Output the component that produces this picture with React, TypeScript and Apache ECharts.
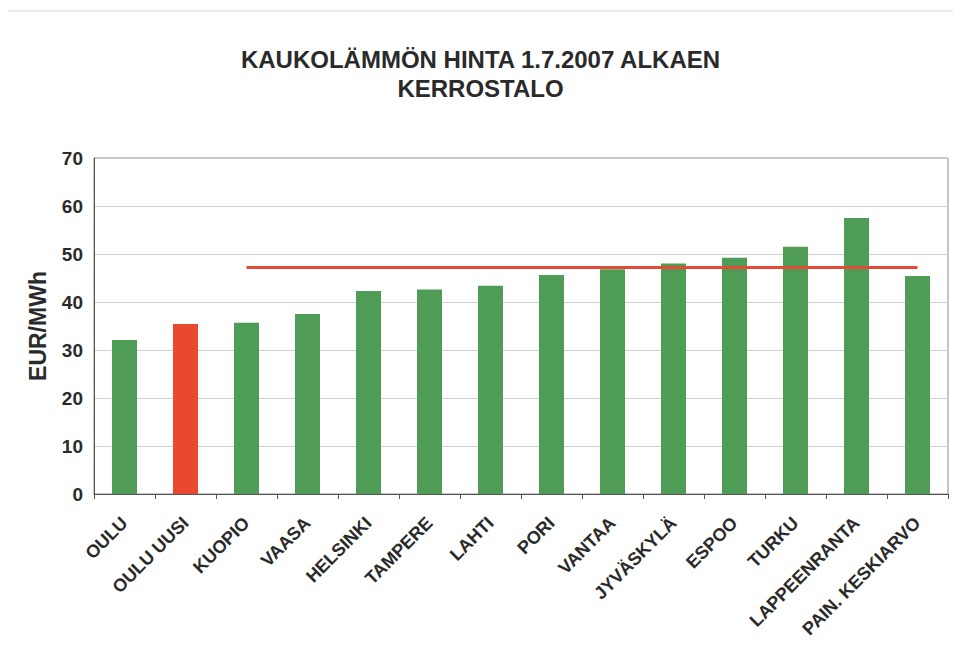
import React, { useEffect, useRef } from "react";
import * as echarts from "echarts";

const categories = [
  "OULU", "OULU UUSI", "KUOPIO", "VAASA", "HELSINKI", "TAMPERE", "LAHTI",
  "PORI", "VANTAA", "JYVÄSKYLÄ", "ESPOO", "TURKU", "LAPPEENRANTA", "PAIN. KESKIARVO",
];
const prices = [32.1, 35.4, 35.7, 37.5, 42.3, 42.6, 43.4, 45.6, 46.8, 48.0, 49.2, 51.5, 57.5, 45.4];
const highlighted = "OULU UUSI";
const averageValue = 47.2;
const averageFrom = "KUOPIO";
const yTicks = [0, 10, 20, 30, 40, 50, 60, 70];

const FONT = "Liberation Sans, Arial, sans-serif";

export default function App() {
  const ref = useRef<HTMLDivElement>(null);
  useEffect(() => {
    if (!ref.current) return;
    const chart = echarts.init(ref.current, null, { renderer: "svg" });
    const startIdx = categories.indexOf(averageFrom);
    const lineData = categories.map((_, i) => (i >= startIdx ? averageValue : null));
    chart.setOption({
      animation: false,
      backgroundColor: "#ffffff",
      title: {
        text: "KAUKOLÄMMÖN HINTA 1.7.2007 ALKAEN\nKERROSTALO",
        left: "center",
        top: 32,
        textStyle: {
          fontFamily: FONT,
          fontSize: 24,
          fontWeight: "bold",
          color: "#2a2a2a",
          lineHeight: 29,
        },
      },
      graphic: [
        {
          type: "line",
          shape: { x1: 0, y1: 3, x2: 945, y2: 3 },
          style: { stroke: "#d8d8d8", lineWidth: 1 },
        },
      ],
      grid: { left: 86, right: 5, top: 150, bottom: 159, show: true, borderColor: "#8a8a8a", borderWidth: 1 },
      xAxis: {
        type: "category",
        data: categories,
        axisLine: { lineStyle: { color: "#555555" } },
        axisTick: { show: true, alignWithLabel: false, length: 5, lineStyle: { color: "#555555" } },
        axisLabel: {
          rotate: 45,
          interval: 0,
          fontFamily: FONT,
          fontSize: 18,
          fontWeight: "bold",
          color: "#2a2a2a",
          margin: 26,
        },
      },
      yAxis: {
        type: "value",
        min: yTicks[0],
        max: yTicks[yTicks.length - 1],
        interval: 10,
        name: "EUR/MWh",
        nameLocation: "middle",
        nameGap: 45,
        nameRotate: 90,
        nameTextStyle: {
          fontFamily: FONT,
          fontSize: 23,
          fontWeight: "bold",
          color: "#2a2a2a",
        },
        axisLine: { show: true, lineStyle: { color: "#555555" } },
        axisTick: { show: false },
        axisLabel: {
          fontFamily: FONT,
          fontSize: 19,
          fontWeight: "bold",
          color: "#2a2a2a",
          margin: 11,
        },
        splitLine: { lineStyle: { color: "#cfcfcf", width: 1 } },
      },
      series: [
        {
          type: "bar",
          data: prices.map((v, i) => ({
            value: v,
            itemStyle: { color: categories[i] === highlighted ? "#e8492f" : "#4e9c55" },
          })),
          barWidth: "41%",
          z: 2,
        },
        {
          type: "line",
          data: lineData,
          symbol: "none",
          lineStyle: { color: "#e44a36", width: 3 },
          z: 3,
        },
      ],
    });
    return () => chart.dispose();
  }, []);
  return <div ref={ref} style={{ width: 945, height: 645 }} />;
}
